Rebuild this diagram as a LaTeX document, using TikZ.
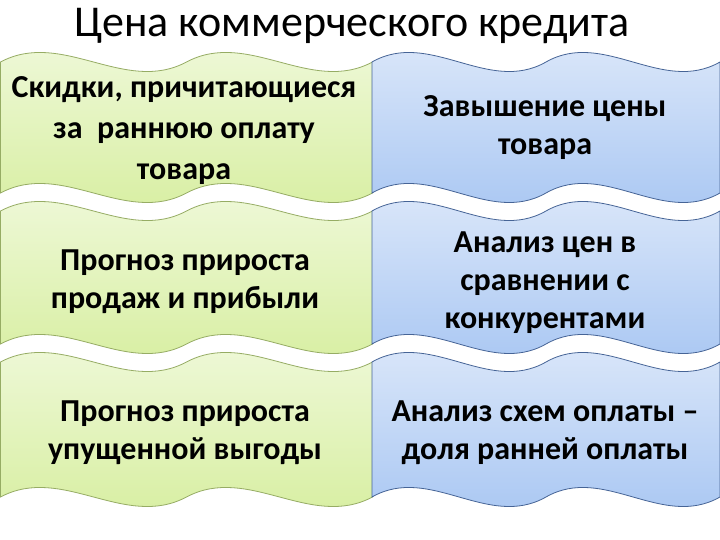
\documentclass[tikz,border=0pt]{standalone}
\usepackage{fontspec}
\setmainfont{Carlito}
\definecolor{gtop}{RGB}{240,249,220}
\definecolor{gbot}{RGB}{214,238,158}
\definecolor{gline}{RGB}{150,172,100}
\definecolor{btop}{RGB}{222,233,250}
\definecolor{bbot}{RGB}{166,197,242}
\definecolor{bline}{RGB}{70,100,150}
\newcommand\wh{33}
\newcommand\wavebox[5]{%
 \path[#5] ({#1},{540-#3}) .. controls ({#1+#2/6},{540-#3+\wh}) and ({#1+#2/3},{540-#3-\wh}) .. ({#1+#2/2},{540-#3})
   .. controls ({#1+2*#2/3},{540-#3+\wh}) and ({#1+5*#2/6},{540-#3-\wh}) .. ({#1+#2},{540-#3})
   -- ({#1+#2},{540-#4})
   .. controls ({#1+5*#2/6},{540-#4-\wh}) and ({#1+2*#2/3},{540-#4+\wh}) .. ({#1+#2/2},{540-#4})
   .. controls ({#1+#2/3},{540-#4-\wh}) and ({#1+#2/6},{540-#4+\wh}) .. ({#1},{540-#4}) -- cycle;}
\tikzset{
  greenbox/.style={top color=gtop,bottom color=gbot,draw=gline,line width=0.8pt},
  bluebox/.style={top color=btop,bottom color=bbot,draw=bline,line width=0.8pt},
  txt/.style={align=center,font=\bfseries\fontsize{32}{38}\selectfont,text=black,inner sep=0pt},
}
\begin{document}
\begin{tikzpicture}[x=1pt,y=1pt]
\useasboundingbox[fill=white] (0,0) rectangle (720,540);
\node[anchor=base,font=\fontsize{44}{50}\selectfont,inner sep=0pt] (title) at (352,{540-37}) {Цена коммерческого кредита};
% left column
\wavebox{0.5}{372}{62}{193}{greenbox}
\wavebox{0.5}{372}{211}{344}{greenbox}
\wavebox{0.5}{372}{362}{497}{greenbox}
% right column
\wavebox{372}{348}{62}{193}{bluebox}
\wavebox{372}{348}{211}{344}{bluebox}
\wavebox{372}{348}{362}{497}{bluebox}
% texts
\node[txt,font=\bfseries\fontsize{32}{41}\selectfont] (t1) at (184,{540-131}) {Скидки, причитающиеся\\за\ \ раннюю оплату\\товара};
\node[txt] (t2) at (545,{540-128}) {Завышение цены\\товара};
\node[txt] (t3) at (185,{540-282}) {Прогноз прироста\\продаж и прибыли};
\node[txt] (t4) at (545,{540-283}) {Анализ цен в\\сравнении с\\конкурентами};
\node[txt] (t5) at (185,{540-433}) {Прогноз прироста\\упущенной выгоды};
\node[txt] (t6) at (545,{540-433}) {Анализ схем оплаты –\\доля ранней оплаты};
\end{tikzpicture}
\end{document}
